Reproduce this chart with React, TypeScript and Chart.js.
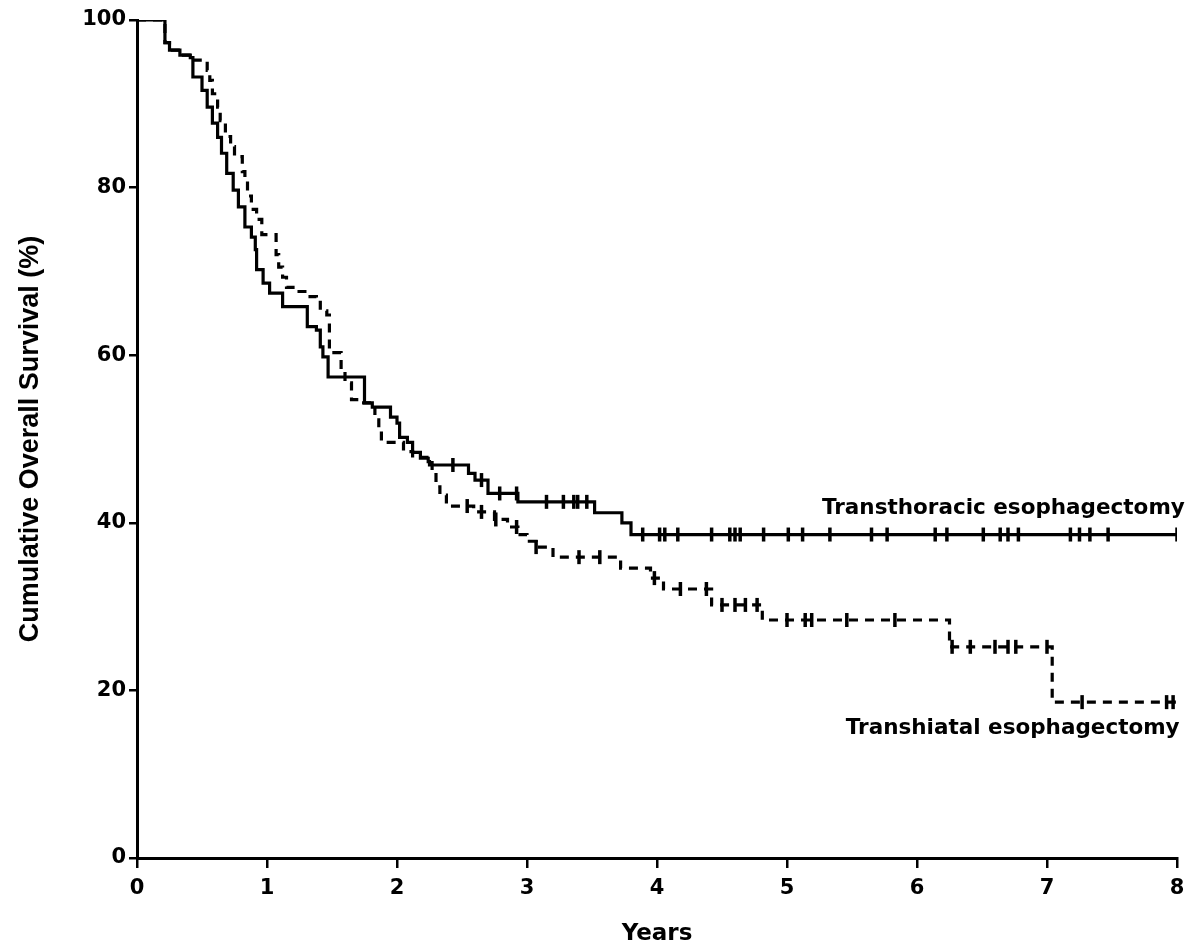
import React, { useEffect, useRef } from "react";
import { Chart, registerables } from "chart.js";

Chart.register(...registerables);

// Axis ticks
const xTickValues = [0, 1, 2, 3, 4, 5, 6, 7, 8];
const yTickValues = [0, 20, 40, 60, 80, 100];

// Transthoracic esophagectomy (solid) – step times (years) and survival (%)
const tthTimes = [0, 0.215, 0.25, 0.33, 0.41, 0.43, 0.5, 0.54, 0.58, 0.62, 0.65, 0.69, 0.74, 0.78, 0.83, 0.88, 0.91, 0.92, 0.97, 1.02, 1.12, 1.31, 1.38, 1.41, 1.43, 1.47, 1.75, 1.81, 1.95, 2.0, 2.02, 2.08, 2.12, 2.18, 2.24, 2.25, 2.55, 2.6, 2.7, 2.93, 3.52, 3.73, 3.8, 8.0];
const tthSurv = [100, 97.3, 96.4, 95.8, 95.5, 93.2, 91.6, 89.6, 87.7, 86.0, 84.1, 81.7, 79.7, 77.7, 75.3, 74.1, 72.6, 70.2, 68.6, 67.4, 65.8, 63.4, 63.0, 61.0, 59.8, 57.4, 54.3, 53.8, 52.6, 51.9, 50.2, 49.6, 48.4, 47.7, 47.3, 46.9, 45.9, 45.1, 43.5, 42.5, 41.2, 40.0, 38.6, 38.6];
const tthCensored = [2.43, 2.65, 2.79, 2.92, 3.15, 3.28, 3.36, 3.39, 3.46, 3.89, 4.02, 4.06, 4.16, 4.42, 4.56, 4.6, 4.64, 4.82, 5.01, 5.12, 5.33, 5.65, 5.77, 6.14, 6.23, 6.51, 6.64, 6.7, 6.78, 7.18, 7.25, 7.33, 7.47, 8.0];

// Transhiatal esophagectomy (dashed)
const thTimes = [0, 0.215, 0.25, 0.33, 0.42, 0.54, 0.56, 0.58, 0.62, 0.64, 0.68, 0.72, 0.75, 0.81, 0.83, 0.85, 0.88, 0.92, 0.96, 1.07, 1.09, 1.12, 1.15, 1.2, 1.31, 1.38, 1.41, 1.46, 1.48, 1.57, 1.6, 1.65, 1.69, 1.83, 1.86, 1.88, 2.05, 2.12, 2.27, 2.3, 2.33, 2.38, 2.59, 2.75, 2.85, 2.93, 3.0, 3.07, 3.2, 3.72, 3.95, 4.05, 4.42, 4.81, 6.25, 7.04, 8.0];
const thSurv = [100, 97.3, 96.4, 95.8, 95.2, 94.0, 92.8, 91.2, 89.6, 88.0, 86.1, 84.9, 83.7, 81.9, 80.8, 79.0, 77.4, 76.2, 74.4, 72.0, 70.5, 69.3, 68.1, 67.6, 67.0, 66.6, 65.3, 64.8, 60.3, 58.0, 56.7, 54.7, 54.3, 52.3, 51.1, 49.6, 48.5, 47.8, 46.0, 44.3, 43.3, 42.0, 41.3, 40.4, 39.5, 38.6, 37.8, 37.1, 35.9, 34.6, 33.4, 32.1, 30.2, 28.4, 25.2, 18.6, 18.6];
const thCensored = [2.54, 2.65, 2.76, 2.92, 3.07, 3.4, 3.56, 3.98, 4.18, 4.38, 4.5, 4.6, 4.68, 4.77, 5.0, 5.14, 5.19, 5.46, 5.83, 6.27, 6.41, 6.6, 6.7, 6.76, 7.0, 7.27, 7.92, 7.97];

// Curve labels (anchored in data coordinates, right aligned, baseline)
const labelTexts = ["Transthoracic esophagectomy", "Transhiatal esophagectomy"];
const labelX = [8.06, 8.02];
const labelY = [41.1, 14.8];

const xTitle = "Years";
const yTitle = "Cumulative Overall Survival (%)";

function stepValue(times: number[], surv: number[], t: number): number {
  let v = surv[0];
  for (let i = 0; i < times.length; i++) {
    if (times[i] <= t) v = surv[i];
    else break;
  }
  return v;
}

const curveLabelPlugin = {
  id: "curveLabels",
  afterDatasetsDraw(chart: any) {
    const { ctx, scales } = chart;
    ctx.save();
    ctx.fillStyle = "#000";
    ctx.font = 'bold 21.5px "DejaVu Sans"';
    ctx.textAlign = "right";
    ctx.textBaseline = "alphabetic";
    labelTexts.forEach((t, i) => {
      ctx.fillText(t, scales.x.getPixelForValue(labelX[i]), scales.y.getPixelForValue(labelY[i]));
    });
    ctx.restore();
  },
};

export default function App() {
  const canvasRef = useRef<HTMLCanvasElement | null>(null);

  useEffect(() => {
    if (!canvasRef.current) return;
    const tthLine = tthTimes.map((t, i) => ({ x: t, y: tthSurv[i] }));
    const thLine = thTimes.map((t, i) => ({ x: t, y: thSurv[i] }));
    const tthC = tthCensored.map((t) => ({ x: t, y: stepValue(tthTimes, tthSurv, t) }));
    const thC = thCensored.map((t) => ({ x: t, y: stepValue(thTimes, thSurv, t) }));

    const tickFont = { family: '"DejaVu Sans"', size: 21, weight: "bold" as const };

    const chart = new Chart(canvasRef.current, {
      type: "line",
      data: {
        datasets: [
          {
            label: "Transthoracic esophagectomy",
            data: tthLine,
            borderColor: "#000",
            borderWidth: 3.2,
            stepped: true,
            pointRadius: 0,
            fill: false,
          },
          {
            label: "Transhiatal esophagectomy",
            data: thLine,
            borderColor: "#000",
            borderWidth: 3.2,
            borderDash: [9, 7],
            stepped: true,
            pointRadius: 0,
            fill: false,
          },
          {
            type: "scatter",
            label: "tth censored",
            data: tthC,
            borderColor: "#000",
            backgroundColor: "#000",
            pointStyle: "line",
            rotation: 90,
            pointRadius: 7,
            borderWidth: 3.5,
            showLine: false,
          } as any,
          {
            type: "scatter",
            label: "th censored",
            data: thC,
            borderColor: "#000",
            backgroundColor: "#000",
            pointStyle: "line",
            rotation: 90,
            pointRadius: 7,
            borderWidth: 3.5,
            showLine: false,
          } as any,
        ],
      },
      options: {
        responsive: false,
        animation: false,
        events: [],
        layout: { padding: { left: 0, right: 18, top: 20, bottom: 0 } },
        plugins: { legend: { display: false }, tooltip: { enabled: false } },
        scales: {
          x: {
            type: "linear",
            min: 0,
            max: 8,
            afterFit: (s: any) => {
              s.height = 90;
            },
            afterBuildTicks: (s: any) => {
              s.ticks = xTickValues.map((v) => ({ value: v }));
            },
            ticks: { font: tickFont, color: "#000", padding: 8, autoSkip: false, maxRotation: 0 },
            grid: {
              display: true,
              drawOnChartArea: false,
              drawTicks: true,
              tickLength: 10,
              color: "#000",
              lineWidth: 2.5,
            },
            border: { display: true, color: "#000", width: 3 },
            title: {
              display: true,
              text: xTitle,
              color: "#000",
              font: { family: '"DejaVu Sans"', size: 23, weight: "bold" },
              padding: { top: 10, bottom: 0 },
            },
          },
          y: {
            type: "linear",
            min: 0,
            max: 100,
            afterFit: (s: any) => {
              s.width = 137;
            },
            afterBuildTicks: (s: any) => {
              s.ticks = yTickValues.map((v) => ({ value: v }));
            },
            ticks: { font: tickFont, color: "#000", padding: 3 },
            grid: {
              display: true,
              drawOnChartArea: false,
              drawTicks: true,
              tickLength: 8,
              color: "#000",
              lineWidth: 2.5,
            },
            border: { display: true, color: "#000", width: 3 },
            title: {
              display: true,
              text: yTitle,
              color: "#000",
              font: { family: '"Liberation Sans"', size: 27, weight: "bold" },
              padding: { top: 14, bottom: 0 },
            },
          },
        },
      },
      plugins: [curveLabelPlugin],
    });
    return () => chart.destroy();
  }, []);

  return (
    <div style={{ position: "fixed", left: 0, top: 0, width: 1195, height: 948, background: "#fff" }}>
      <canvas ref={canvasRef} width={1195} height={948} />
    </div>
  );
}
